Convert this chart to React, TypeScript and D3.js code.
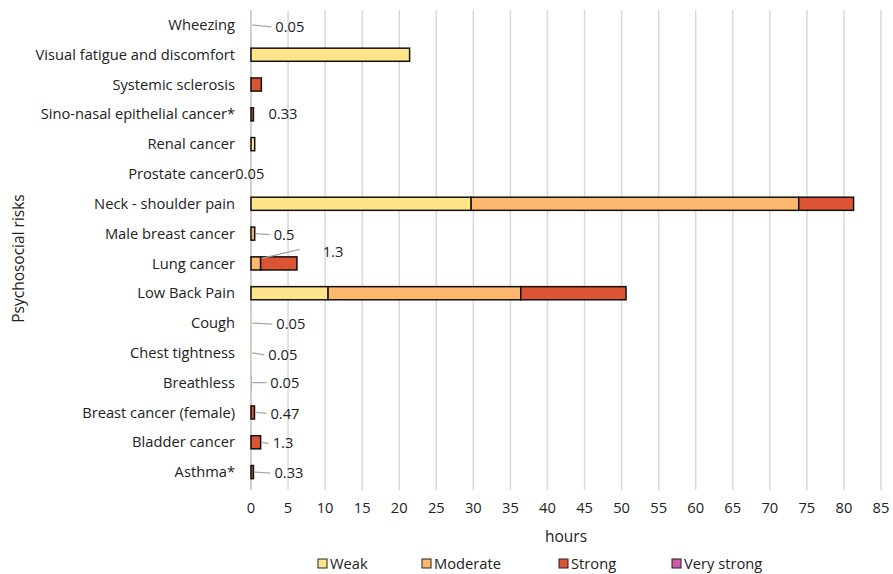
import React from "react";
import * as d3 from "d3";

const categories = [
  "Asthma*",
  "Bladder cancer",
  "Breast cancer (female)",
  "Breathless",
  "Chest tightness",
  "Cough",
  "Low Back Pain",
  "Lung cancer",
  "Male breast cancer",
  "Neck - shoulder pain",
  "Prostate cancer",
  "Renal cancer",
  "Sino-nasal epithelial cancer*",
  "Systemic sclerosis",
  "Visual fatigue and discomfort",
  "Wheezing",
];
const weak = [0, 0, 0, 0, 0.05, 0.05, 10.4, 0, 0, 29.7, 0.05, 0.5, 0, 0, 21.4, 0.05];
const moderate = [0, 0, 0, 0, 0, 0, 26.0, 1.3, 0.5, 44.2, 0, 0, 0, 0, 0, 0];
const strong = [0.33, 1.3, 0.47, 0, 0, 0, 14.2, 4.9, 0, 7.4, 0, 0, 0.33, 1.4, 0, 0];
const veryStrong = [0, 0, 0, 0.05, 0, 0, 0, 0, 0, 0, 0, 0, 0, 0, 0, 0];

const seriesNames = ["Weak", "Moderate", "Strong", "Very strong"];
const seriesColors = ["#FFE48A", "#FDB86E", "#DC5433", "#D25AA8"];

const xTicks = d3.range(0, 86, 5);

// data-label texts
const labelCats = [
  "Wheezing",
  "Sino-nasal epithelial cancer*",
  "Prostate cancer",
  "Male breast cancer",
  "Lung cancer",
  "Cough",
  "Chest tightness",
  "Breathless",
  "Breast cancer (female)",
  "Bladder cancer",
  "Asthma*",
];
const labelTexts = ["0.05", "0.33", "0.05", "0.5", "1.3", "0.05", "0.05", "0.05", "0.47", "1.3", "0.33"];
// label placement (style): offset from segment end, whether leader line
const labelStyle = [
  { dx: 24, dy: 2, leader: true },
  { dx: 15, dy: 0, leader: false },
  { dx: -16, dy: 0, leader: false },
  { dx: 19, dy: 1, leader: true },
  { dx: 62, dy: -12, leader: true },
  { dx: 25, dy: 1, leader: true },
  { dx: 17, dy: 2, leader: true },
  { dx: 19, dy: 0, leader: true },
  { dx: 16, dy: 1, leader: true },
  { dx: 12, dy: 1, leader: true },
  { dx: 21, dy: 1, leader: true },
];
// segment the label is attached to (end of which series stack)
const labelSeriesEnd = [0, 2, 0, 1, 1, 0, 0, 3, 2, 2, 2];

export default function App() {
  const W = 893;
  const H = 574;
  const left = 251;
  const right = 881;
  const top = 10;
  const bottom = 487;
  const font = "'Open Sans', Lato, sans-serif";
  const fs = 14.7;

  const x = d3.scaleLinear().domain([0, 85]).range([left, right]);
  const y = d3
    .scaleBand<string>()
    .domain([...categories].reverse())
    .range([top, bottom])
    .paddingInner(0.56)
    .paddingOuter(0.28);

  const table = categories.map((c, i) => ({
    cat: c,
    Weak: weak[i],
    Moderate: moderate[i],
    Strong: strong[i],
    "Very strong": veryStrong[i],
  }));
  const stack = d3.stack<any>().keys(seriesNames)(table);

  const cy = (c: string) => (y(c) as number) + y.bandwidth() / 2;

  return (
    <svg
      width={W}
      height={H}
      style={{ position: "absolute", left: 0, top: 0, background: "#fff" }}
      fontFamily={font}
    >
      {/* gridlines */}
      {xTicks.map((t) => (
        <line
          key={"g" + t}
          x1={x(t)}
          x2={x(t)}
          y1={top}
          y2={bottom + 3}
          stroke={t === 0 ? "#bfbfbf" : "#d9d9d9"}
          strokeWidth={1.5}
        />
      ))}
      {/* bars */}
      {stack.map((s, si) =>
        s.map((d, i) => {
          const x0 = x(d[0]);
          const w = x(d[1]) - x0;
          if (w <= 0) return null;
          const big = w >= 1.5;
          return (
            <rect
              key={si + "-" + i}
              x={x0}
              y={y(categories[i]) as number}
              width={w}
              height={y.bandwidth()}
              fill={seriesColors[si]}
              stroke={big ? "#111" : "none"}
              strokeWidth={1.5}
            />
          );
        })
      )}
      {/* data labels */}
      {labelCats.map((c, k) => {
        const i = categories.indexOf(c);
        const st = labelStyle[k];
        const endIdx = labelSeriesEnd[k];
        const endVal = stack[endIdx][i][1];
        const ex = x(endVal);
        const yc = cy(c);
        const tx = ex + st.dx;
        const ty = yc + st.dy;
        return (
          <g key={"l" + k}>
            {st.leader && (
              <line
                x1={ex + 1}
                y1={st.dy < -5 ? yc - 5 : yc}
                x2={tx - 4 - (st.dy < -5 ? 19 : 0)}
                y2={st.dy < -5 ? ty - 2 : ty}
                stroke="#a6a6a6"
                strokeWidth={1.3}
              />
            )}
            <text x={tx} y={ty} dy="0.35em" fontSize={fs} fill="#222">
              {labelTexts[k]}
            </text>
          </g>
        );
      })}
      {/* y category labels */}
      {categories.map((c) => (
        <text
          key={"c" + c}
          x={235}
          y={cy(c)}
          dy="0.35em"
          textAnchor="end"
          fontSize={fs}
          fill="#222"
        >
          {c}
        </text>
      ))}
      {/* x tick labels */}
      {xTicks.map((t) => (
        <text
          key={"t" + t}
          x={x(t)}
          y={508}
          dy="0.35em"
          textAnchor="middle"
          fontSize={fs}
          fill="#222"
        >
          {t}
        </text>
      ))}
      {/* axis titles */}
      <text x={(left + right) / 2} y={537} dy="0.35em" textAnchor="middle" fontSize={15.5} fill="#222">
        hours
      </text>
      <text
        transform={`translate(19,${(top + bottom) / 2 + 10}) rotate(-90)`}
        dy="0.35em"
        textAnchor="middle"
        fontSize={15.5}
        fill="#222"
      >
        Psychosocial risks
      </text>
      {/* legend */}
      {seriesNames.map((n, i) => {
        const lx = [318, 422, 559, 672][i];
        return (
          <g key={"lg" + n}>
            <rect x={lx} y={559} width={9} height={9} fill={seriesColors[i]} stroke="#222" strokeWidth={1} />
            <text x={lx + 12} y={564} dy="0.35em" fontSize={fs} fill="#222">
              {n}
            </text>
          </g>
        );
      })}
    </svg>
  );
}
